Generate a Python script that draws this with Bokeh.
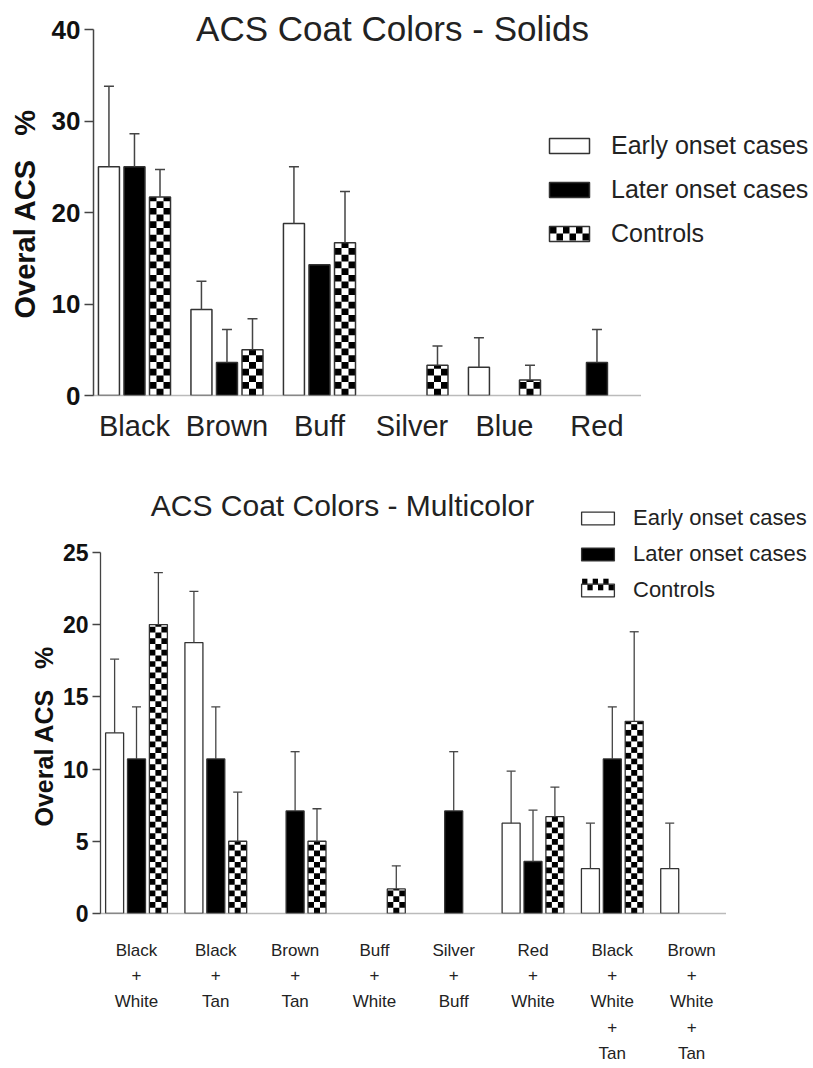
import numpy as np
from bokeh.plotting import figure
from bokeh.models import (ColumnDataSource, FixedTicker, Range1d, Label, Legend,
                          LegendItem, Whisker, TeeHead, Title, BoxAnnotation)
from bokeh.layouts import column
from bokeh.embed import file_html
from bokeh.resources import INLINE

# ---------------- data ----------------
series_names = ["Early onset cases", "Later onset cases", "Controls"]

solid_cats = ["Black", "Brown", "Buff", "Silver", "Blue", "Red"]
solid_early = [25.0, 9.4, 18.8, 0.0, 3.1, 0.0]
solid_early_err = [33.8, 12.5, 25.0, None, 6.3, None]
solid_later = [25.0, 3.6, 14.3, 0.0, 0.0, 3.6]
solid_later_err = [28.6, 7.2, None, None, None, 7.2]
solid_ctrl = [21.7, 5.0, 16.7, 3.3, 1.7, 0.0]
solid_ctrl_err = [24.7, 8.4, 22.3, 5.4, 3.3, None]
solid_yticks = [0, 10, 20, 30, 40]

multi_cats = ["Black\n+\nWhite", "Black\n+\nTan", "Brown\n+\nTan", "Buff\n+\nWhite",
              "Silver\n+\nBuff", "Red\n+\nWhite", "Black\n+\nWhite\n+\nTan",
              "Brown\n+\nWhite\n+\nTan"]
multi_early = [12.5, 18.75, 0.0, 0.0, 0.0, 6.25, 3.1, 3.1]
multi_early_err = [17.6, 22.3, None, None, None, 9.85, 6.25, 6.25]
multi_later = [10.7, 10.7, 7.1, 0.0, 7.1, 3.6, 10.7, 0.0]
multi_later_err = [14.3, 14.3, 11.2, None, 11.2, 7.15, 14.3, None]
multi_ctrl = [20.0, 5.0, 5.0, 1.7, 0.0, 6.7, 13.3, 0.0]
multi_ctrl_err = [23.6, 8.4, 7.25, 3.3, None, 8.75, 19.5, None]
multi_yticks = [0, 5, 10, 15, 20, 25]

Y_LABEL = "Overal ACS\u00a0\u00a0\u00a0%"
FONT = "Liberation Sans"
OUT = "#333333"
OFFS = [-0.276, 0.0, 0.276]
BW = 0.227


def bars_source(vals, k):
    d = dict(x=[], top=[])
    for i, v in enumerate(vals):
        if v > 0:
            d["x"].append(i + OFFS[k]); d["top"].append(v)
    return ColumnDataSource(d)


def whisker_source(vals_list, errs_list):
    d = dict(x=[], lo=[], hi=[])
    for k in range(3):
        for i, (v, e) in enumerate(zip(vals_list[k], errs_list[k])):
            if e is not None:
                d["x"].append(i + OFFS[k]); d["lo"].append(v); d["hi"].append(e)
    return ColumnDataSource(d)


def checker_quads(vals, k, cell):
    L, R, B, T = [], [], [], []
    cw = BW / 3
    for i, v in enumerate(vals):
        if v <= 0:
            continue
        x0 = i + OFFS[k] - BW / 2
        for r in range(int(np.ceil(v / cell))):
            for c in range(3):
                if (r + c) % 2 == 1:
                    L.append(x0 + c * cw); R.append(x0 + (c + 1) * cw)
                    B.append(r * cell); T.append(min((r + 1) * cell, v))
    return ColumnDataSource(dict(left=L, right=R, bottom=B, top=T))


def legend_checker(p, box, ncol, nrow):
    """black cells drawn inside the legend swatch of the controls (screen px, frame-relative)"""
    x0, x1, y0, y1 = box
    cw = (x1 - x0) / ncol
    ch = (y1 - y0) / nrow
    for r in range(nrow):
        for c in range(ncol):
            if (r + c) % 2 == 0:
                top = y1 - r * ch
                p.add_layout(BoxAnnotation(left=x0 + c * cw, right=x0 + (c + 1) * cw,
                                           top=top, bottom=top - ch,
                                           left_units="screen", right_units="screen",
                                           top_units="screen", bottom_units="screen",
                                           fill_color="black", fill_alpha=1.0,
                                           line_color=None, level="overlay"))


def make_chart(cats, vals, errs, yticks, xr, xbound, yr, size, borders,
               cell_px, title, title_xy, title_size, tick_size, ylab_size, ylab_offset,
               ylab_standoff, xlab_size, xlab_lh, xlab_standoff, tick_out, cap, leg_font,
               leg_glyph, leg_loc, leg_spacing, leg_label_h, leg_standoff, line_w,
               swatch_box, swatch_cells):
    p = figure(output_backend="svg", toolbar_location=None,
               width=size[0], height=size[1],
               x_range=Range1d(*xr), y_range=Range1d(*yr),
               min_border_left=borders[0], min_border_right=borders[1],
               min_border_top=borders[2], min_border_bottom=borders[3])
    p.frame_align = False
    p.outline_line_color = None
    p.grid.visible = False
    p.background_fill_color = "white"
    p.border_fill_color = "white"

    # y axis
    ya = p.yaxis[0]
    ya.ticker = FixedTicker(ticks=yticks)
    ya.bounds = (yticks[0], yticks[-1])
    ya.major_label_text_font = FONT
    ya.major_label_text_font_style = "bold"
    ya.major_label_text_font_size = tick_size
    ya.major_label_text_color = "#111111"
    ya.major_label_standoff = 4
    ya.axis_line_color = "#444444"
    ya.axis_line_width = line_w
    ya.major_tick_line_color = "#444444"
    ya.major_tick_line_width = line_w
    ya.major_tick_out = tick_out
    ya.major_tick_in = 0
    ya.minor_tick_line_color = None

    # y-axis title, placed along the axis (0 .. max), outside the tick labels
    p.add_layout(Title(text=Y_LABEL, align="left", offset=ylab_offset,
                       vertical_align="middle", standoff=ylab_standoff,
                       text_font=FONT, text_font_style="bold",
                       text_font_size=ylab_size, text_color="#111111"), "left")

    # x axis (dotted baseline)
    xa = p.xaxis[0]
    xa.ticker = FixedTicker(ticks=list(range(len(cats))))
    xa.bounds = xbound
    xa.major_label_overrides = {i: c for i, c in enumerate(cats)}
    xa.major_label_text_font = FONT
    xa.major_label_text_font_size = xlab_size
    xa.major_label_text_color = "#222222"
    xa.major_label_text_line_height = xlab_lh
    xa.major_label_standoff = xlab_standoff
    xa.major_tick_line_color = None
    xa.minor_tick_line_color = None
    xa.axis_line_color = "#777777"
    xa.axis_line_width = 1.5
    xa.axis_line_dash = "1 1"

    # bars
    r_early = p.vbar(x="x", top="top", width=BW, bottom=0, source=bars_source(vals[0], 0),
                     fill_color="white", line_color=OUT, line_width=line_w)
    r_later = p.vbar(x="x", top="top", width=BW, bottom=0, source=bars_source(vals[1], 1),
                     fill_color="black", line_color=OUT, line_width=line_w)
    csrc = bars_source(vals[2], 2)
    p.vbar(x="x", top="top", width=BW, bottom=0, source=csrc,
           fill_color="white", line_color=None)
    cell = cell_px[0] / cell_px[1]
    p.quad(left="left", right="right", bottom="bottom", top="top",
           source=checker_quads(vals[2], 2, cell), fill_color="black", line_color=None)
    r_ctrl = p.vbar(x="x", top="top", width=BW, bottom=0, source=csrc, fill_color=None,
                    line_color=OUT, line_width=line_w)

    # error bars (upper only)
    w = Whisker(source=whisker_source(vals, errs), base="x", lower="lo", upper="hi",
                line_color="#444444", line_width=line_w, level="overlay",
                upper_head=TeeHead(size=cap, line_color="#444444", line_width=line_w),
                lower_head=None)
    p.add_layout(w)

    # chart title
    p.add_layout(Label(x=title_xy[0], y=title_xy[1], x_units="screen", y_units="screen",
                       text=title, text_font=FONT, text_font_size=title_size,
                       text_color="#222222", text_align="center", text_baseline="middle"))

    leg = Legend(items=[LegendItem(label=series_names[0], renderers=[r_early]),
                        LegendItem(label=series_names[1], renderers=[r_later]),
                        LegendItem(label=series_names[2], renderers=[r_ctrl])],
                 location=leg_loc)
    leg.label_text_font = FONT
    leg.label_text_font_size = leg_font
    leg.label_text_color = "#222222"
    leg.glyph_width = leg_glyph[0]
    leg.glyph_height = leg_glyph[1]
    leg.label_height = leg_label_h
    leg.spacing = leg_spacing
    leg.label_standoff = leg_standoff
    leg.padding = 0
    leg.margin = 0
    leg.border_line_color = None
    leg.background_fill_alpha = 0
    p.add_layout(leg)

    legend_checker(p, swatch_box, *swatch_cells)
    return p


# top chart: 92.5 px per category, 9.15 px per %
p1 = make_chart(solid_cats, [solid_early, solid_later, solid_ctrl],
                [solid_early_err, solid_later_err, solid_ctrl_err], solid_yticks,
                xr=(-0.443, 7.341), xbound=(-0.443, 5.47), yr=(0, 43.17),
                size=(813, 468), borders=(93, 0, 0, 73), cell_px=(6.7, 9.15),
                title="ACS Coat Colors - Solids", title_xy=(299, 367), title_size="35px",
                tick_size="26px", ylab_size="29px", ylab_offset=77, ylab_standoff=14,
                xlab_size="29px", xlab_lh=1.2, xlab_standoff=8, tick_out=9, cap=10,
                leg_font="25px", leg_glyph=(50, 19), leg_loc=(451, 147),
                leg_spacing=15, leg_label_h=28, leg_standoff=17, line_w=1.5,
                swatch_box=(456.5, 495.5, 155.0, 169.0), swatch_cells=(6, 2))

# bottom chart: 79.3 px per category, 14.61 px per %
p2 = make_chart(multi_cats, [multi_early, multi_later, multi_ctrl],
                [multi_early_err, multi_later_err, multi_ctrl_err], multi_yticks,
                xr=(-0.454, 8.537), xbound=(-0.454, 7.427), yr=(0, 30.8),
                size=(813, 598), borders=(100, 0, 0, 148), cell_px=(5.8, 14.61),
                title="ACS Coat Colors - Multicolor", title_xy=(242, 408), title_size="30px",
                tick_size="23px", ylab_size="25px", ylab_offset=87, ylab_standoff=2,
                xlab_size="17px", xlab_lh=1.363, xlab_standoff=21, tick_out=8, cap=9,
                leg_font="22px", leg_glyph=(41, 16), leg_loc=(477, 310),
                leg_spacing=10, leg_label_h=25, leg_standoff=15, line_w=1.3,
                swatch_box=(481.6, 513.4, 323.2, 334.8), swatch_cells=(6, 2))

layout = column(p1, p2, spacing=0)
open("out.html", "w").write(file_html(layout, INLINE))
